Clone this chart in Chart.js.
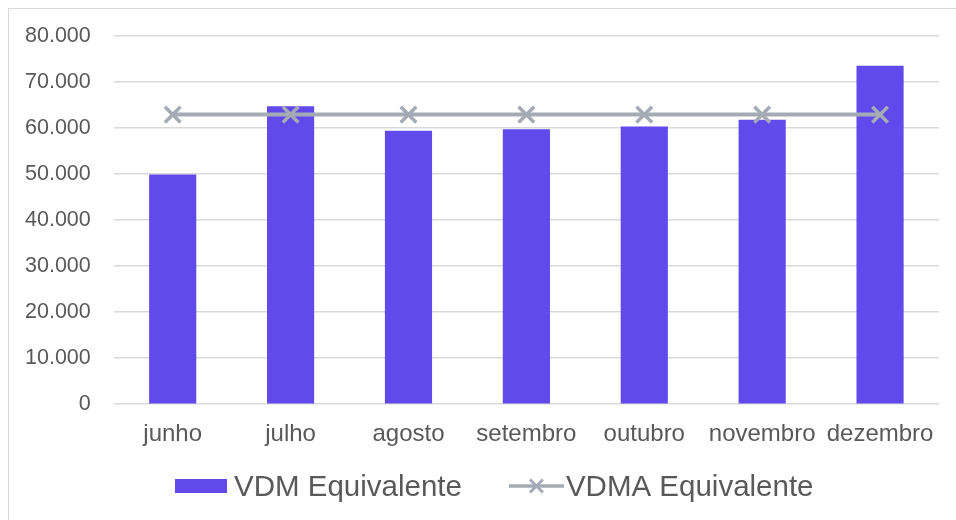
<!DOCTYPE html>
<html>
<head>
<meta charset="utf-8">
<script src="https://cdn.jsdelivr.net/npm/chart.js@4"></script>
<style>
  html, body { margin: 0; padding: 0; background: #fff; overflow: hidden; }
  #frame {
    position: absolute; left: 8px; top: 8px; width: 980px; height: 540px;
    border: 1.5px solid #d9d9d9; box-sizing: border-box;
  }
  #wrap { position: absolute; left: 0; top: 0; width: 956px; height: 520px; }
</style>
</head>
<body>
<div id="frame"></div>
<div id="wrap"><canvas id="chart" width="956" height="520"></canvas></div>
<script>
const months = ["junho", "julho", "agosto", "setembro", "outubro", "novembro", "dezembro"];
const vdm = [49900, 64700, 59400, 59700, 60300, 61800, 73500];
const vdma = [62900, 62900, 62900, 62900, 62900, 62900, 62900];
const yTicks = [0, 10000, 20000, 30000, 40000, 50000, 60000, 70000, 80000];

const purple = "#6149EC";
const gray = "#A5ABB5";
const textColor = "#595959";
const fontFamily = "'Liberation Sans', Arial, sans-serif";

function fmt(v) {
  return String(v).replace(/\B(?=(\d{3})+(?!\d))/g, ".");
}

// legend drawn by hand so the line sample looks like Excel's
const bottomLegend = {
  id: "bottomLegend",
  afterDraw(chart, args, opts) {
    const ctx = chart.ctx;
    const barDs = chart.data.datasets[1];
    const lineDs = chart.data.datasets[0];
    ctx.save();
    ctx.font = opts.fontSize + "px " + fontFamily;
    ctx.textBaseline = "alphabetic";
    let x = opts.left;
    const y = opts.y;
    // bar item
    ctx.fillStyle = barDs.backgroundColor;
    ctx.fillRect(x, y - 7, 52, 14);
    x += 59;
    ctx.fillStyle = textColor;
    ctx.fillText(barDs.label, x, y + 10);
    x += ctx.measureText(barDs.label).width + 47;
    // line item
    ctx.strokeStyle = lineDs.borderColor;
    ctx.lineWidth = 3.5;
    ctx.beginPath();
    ctx.moveTo(x, y);
    ctx.lineTo(x + 55, y);
    ctx.stroke();
    const cx = x + 27.5, r = 6.5;
    ctx.lineWidth = 3;
    ctx.beginPath();
    ctx.moveTo(cx - r, y - r); ctx.lineTo(cx + r, y + r);
    ctx.moveTo(cx + r, y - r); ctx.lineTo(cx - r, y + r);
    ctx.stroke();
    ctx.fillStyle = textColor;
    ctx.fillText(lineDs.label, x + 57, y + 10);
    ctx.restore();
  }
};

new Chart(document.getElementById("chart"), {
  type: "bar",
  data: {
    labels: months,
    datasets: [
      {
        type: "line",
        label: "VDMA Equivalente",
        data: vdma,
        borderColor: gray,
        backgroundColor: gray,
        borderWidth: 4,
        pointStyle: "crossRot",
        pointRadius: 11,
        pointBorderWidth: 3.5,
        pointBorderColor: gray,
        tension: 0,
        order: 0,
      },
      {
        label: "VDM Equivalente",
        data: vdm,
        backgroundColor: purple,
        barPercentage: 0.4,
        categoryPercentage: 1,
        order: 1,
      },
    ],
  },
  options: {
    responsive: false,
    animation: false,
    layout: { padding: { left: 2, right: 17, top: 31, bottom: 63 } },
    plugins: {
      legend: { display: false },
      tooltip: { enabled: false },
      bottomLegend: { left: 175, y: 486, fontSize: 29.5 },
    },
    scales: {
      x: {
        grid: { display: false },
        border: { display: false },
        ticks: {
          color: textColor,
          font: { family: fontFamily, size: 24 },
          padding: 8,
          maxRotation: 0,
          autoSkip: false,
        },
      },
      y: {
        min: 0,
        max: 80000,
        afterBuildTicks(axis) {
          axis.ticks = yTicks.map(v => ({ value: v }));
        },
        grid: { color: "#d9d9d9", lineWidth: 1.5, drawTicks: false },
        border: { display: false },
        ticks: {
          color: textColor,
          font: { family: fontFamily, size: 21.5 },
          padding: 23,
          callback: v => fmt(v),
        },
      },
    },
  },
  plugins: [bottomLegend],
});
</script>
</body>
</html>
